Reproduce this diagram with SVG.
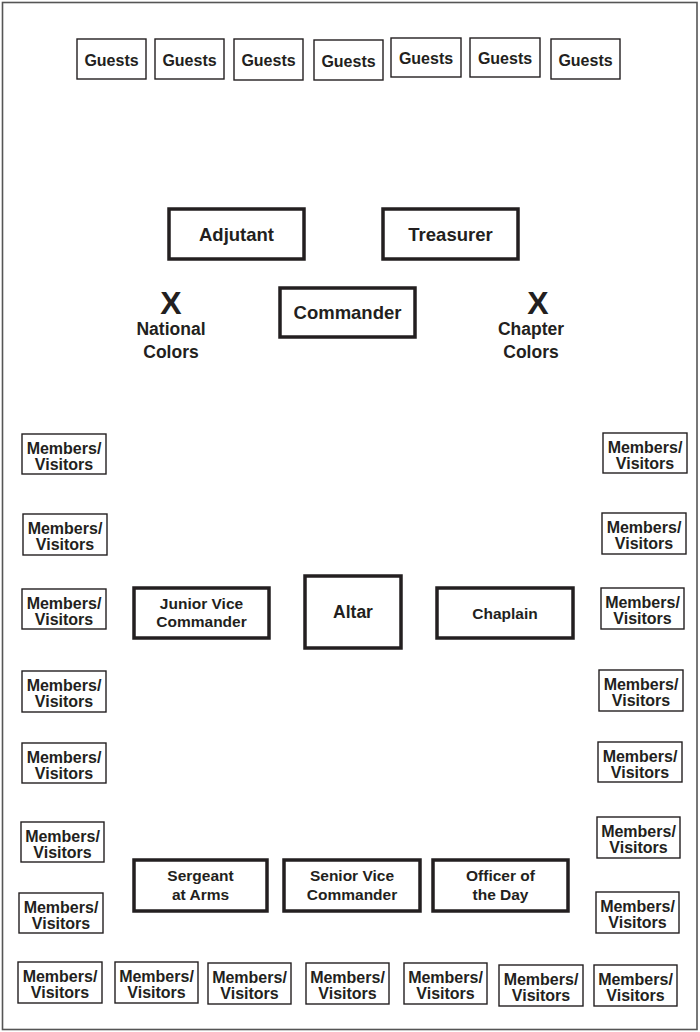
<svg xmlns="http://www.w3.org/2000/svg" width="700" height="1032" viewBox="0 0 700 1032">
<style>
text{font-family:"Liberation Sans",Arial,sans-serif;font-weight:bold;fill:#231f20;text-anchor:middle}
.thin{fill:#fff;stroke:#231f20;stroke-width:1.4}
.thick{fill:#fff;stroke:#231f20;stroke-width:3.5}
.s{font-size:16px}
.m{font-size:15.5px}
.l{font-size:18.5px}
</style>
<rect x="2.5" y="2.5" width="694.5" height="1027" fill="#fff" stroke="#555" stroke-width="1.6"/>
<g id="guests">
<g id="g1"><rect class="thin" x="77" y="39" width="69" height="40"/><text class="s" x="111.5" y="66">Guests</text></g>
<g id="g2"><rect class="thin" x="155" y="39" width="69" height="40"/><text class="s" x="189.5" y="66">Guests</text></g>
<g id="g3"><rect class="thin" x="234" y="39" width="69" height="41"/><text class="s" x="268.5" y="66">Guests</text></g>
<g id="g4"><rect class="thin" x="314" y="40" width="69" height="40"/><text class="s" x="348.5" y="67">Guests</text></g>
<g id="g5"><rect class="thin" x="391" y="38" width="70" height="39"/><text class="s" x="426" y="64">Guests</text></g>
<g id="g6"><rect class="thin" x="470" y="38" width="70" height="39"/><text class="s" x="505" y="64">Guests</text></g>
<g id="g7"><rect class="thin" x="551" y="39" width="69" height="40"/><text class="s" x="585.5" y="66">Guests</text></g>
</g>
<g id="adjutant"><rect class="thick" x="169" y="209" width="135" height="50"/><text class="l" x="236.5" y="240.5">Adjutant</text></g>
<g id="treasurer"><rect class="thick" x="383" y="209" width="135" height="50"/><text class="l" x="450.5" y="240.5">Treasurer</text></g>
<g id="commander"><rect class="thick" x="280" y="288" width="135" height="49"/><text class="l" x="347.5" y="319">Commander</text></g>
<g id="national-colors"><text x="171" y="314" font-size="32px">X</text><text x="171" y="335" font-size="17.5px">National</text><text x="171" y="358" font-size="17.5px">Colors</text></g>
<g id="chapter-colors"><text x="538" y="314" font-size="32px">X</text><text x="531" y="335" font-size="17.5px">Chapter</text><text x="531" y="358" font-size="17.5px">Colors</text></g>
<g id="junior-vice"><rect class="thick" x="134" y="588" width="135" height="50"/><text class="m" x="201.5" y="609">Junior Vice</text><text class="m" x="201.5" y="627">Commander</text></g>
<g id="altar"><rect class="thick" x="305" y="576" width="96" height="72"/><text x="353" y="618" font-size="17.5px">Altar</text></g>
<g id="chaplain"><rect class="thick" x="437" y="588" width="136" height="50"/><text class="m" x="505" y="618.5">Chaplain</text></g>
<g id="sergeant"><rect class="thick" x="134" y="860" width="133" height="51"/><text class="m" x="200.5" y="881">Sergeant</text><text class="m" x="200.5" y="900">at Arms</text></g>
<g id="senior-vice"><rect class="thick" x="284" y="860" width="136" height="51"/><text class="m" x="352" y="881">Senior Vice</text><text class="m" x="352" y="900">Commander</text></g>
<g id="officer-day"><rect class="thick" x="433" y="860" width="135" height="51"/><text class="m" x="500.5" y="881">Officer of</text><text class="m" x="500.5" y="900">the Day</text></g>
<g id="members">
<g id="l1"><rect class="thin" x="22" y="434" width="84" height="40"/><text class="s" x="64" y="454">Members/</text><text class="s" x="64" y="470">Visitors</text></g>
<g id="l2"><rect class="thin" x="23" y="514" width="84" height="41"/><text class="s" x="65" y="534">Members/</text><text class="s" x="65" y="550">Visitors</text></g>
<g id="l3"><rect class="thin" x="22" y="589" width="84" height="40"/><text class="s" x="64" y="609">Members/</text><text class="s" x="64" y="625">Visitors</text></g>
<g id="l4"><rect class="thin" x="22" y="671" width="84" height="41"/><text class="s" x="64" y="691">Members/</text><text class="s" x="64" y="707">Visitors</text></g>
<g id="l5"><rect class="thin" x="22" y="743" width="84" height="40"/><text class="s" x="64" y="763">Members/</text><text class="s" x="64" y="779">Visitors</text></g>
<g id="l6"><rect class="thin" x="21" y="822" width="83" height="40"/><text class="s" x="62.5" y="842">Members/</text><text class="s" x="62.5" y="858">Visitors</text></g>
<g id="l7"><rect class="thin" x="19" y="893" width="84" height="40"/><text class="s" x="61" y="913">Members/</text><text class="s" x="61" y="929">Visitors</text></g>
<g id="r1"><rect class="thin" x="603" y="433" width="84" height="40"/><text class="s" x="645" y="453">Members/</text><text class="s" x="645" y="469">Visitors</text></g>
<g id="r2"><rect class="thin" x="602" y="513" width="84" height="41"/><text class="s" x="644" y="533">Members/</text><text class="s" x="644" y="549">Visitors</text></g>
<g id="r3"><rect class="thin" x="601" y="588" width="83" height="41"/><text class="s" x="642.5" y="608">Members/</text><text class="s" x="642.5" y="624">Visitors</text></g>
<g id="r4"><rect class="thin" x="599" y="670" width="84" height="41"/><text class="s" x="641" y="690">Members/</text><text class="s" x="641" y="706">Visitors</text></g>
<g id="r5"><rect class="thin" x="598" y="742" width="84" height="40"/><text class="s" x="640" y="762">Members/</text><text class="s" x="640" y="778">Visitors</text></g>
<g id="r6"><rect class="thin" x="597" y="817" width="83" height="41"/><text class="s" x="638.5" y="837">Members/</text><text class="s" x="638.5" y="853">Visitors</text></g>
<g id="r7"><rect class="thin" x="596" y="892" width="83" height="41"/><text class="s" x="637.5" y="912">Members/</text><text class="s" x="637.5" y="928">Visitors</text></g>
<g id="b1"><rect class="thin" x="18" y="962" width="84" height="41"/><text class="s" x="60" y="982">Members/</text><text class="s" x="60" y="998">Visitors</text></g>
<g id="b2"><rect class="thin" x="115" y="962" width="83" height="41"/><text class="s" x="156.5" y="982">Members/</text><text class="s" x="156.5" y="998">Visitors</text></g>
<g id="b3"><rect class="thin" x="208" y="963" width="83" height="41"/><text class="s" x="249.5" y="983">Members/</text><text class="s" x="249.5" y="999">Visitors</text></g>
<g id="b4"><rect class="thin" x="306" y="963" width="83" height="41"/><text class="s" x="347.5" y="983">Members/</text><text class="s" x="347.5" y="999">Visitors</text></g>
<g id="b5"><rect class="thin" x="404" y="963" width="83" height="41"/><text class="s" x="445.5" y="983">Members/</text><text class="s" x="445.5" y="999">Visitors</text></g>
<g id="b6"><rect class="thin" x="499" y="965" width="84" height="41"/><text class="s" x="541" y="985">Members/</text><text class="s" x="541" y="1001">Visitors</text></g>
<g id="b7"><rect class="thin" x="594" y="965" width="83" height="41"/><text class="s" x="635.5" y="985">Members/</text><text class="s" x="635.5" y="1001">Visitors</text></g>
</g>
<g id="connectors"></g>
</svg>
